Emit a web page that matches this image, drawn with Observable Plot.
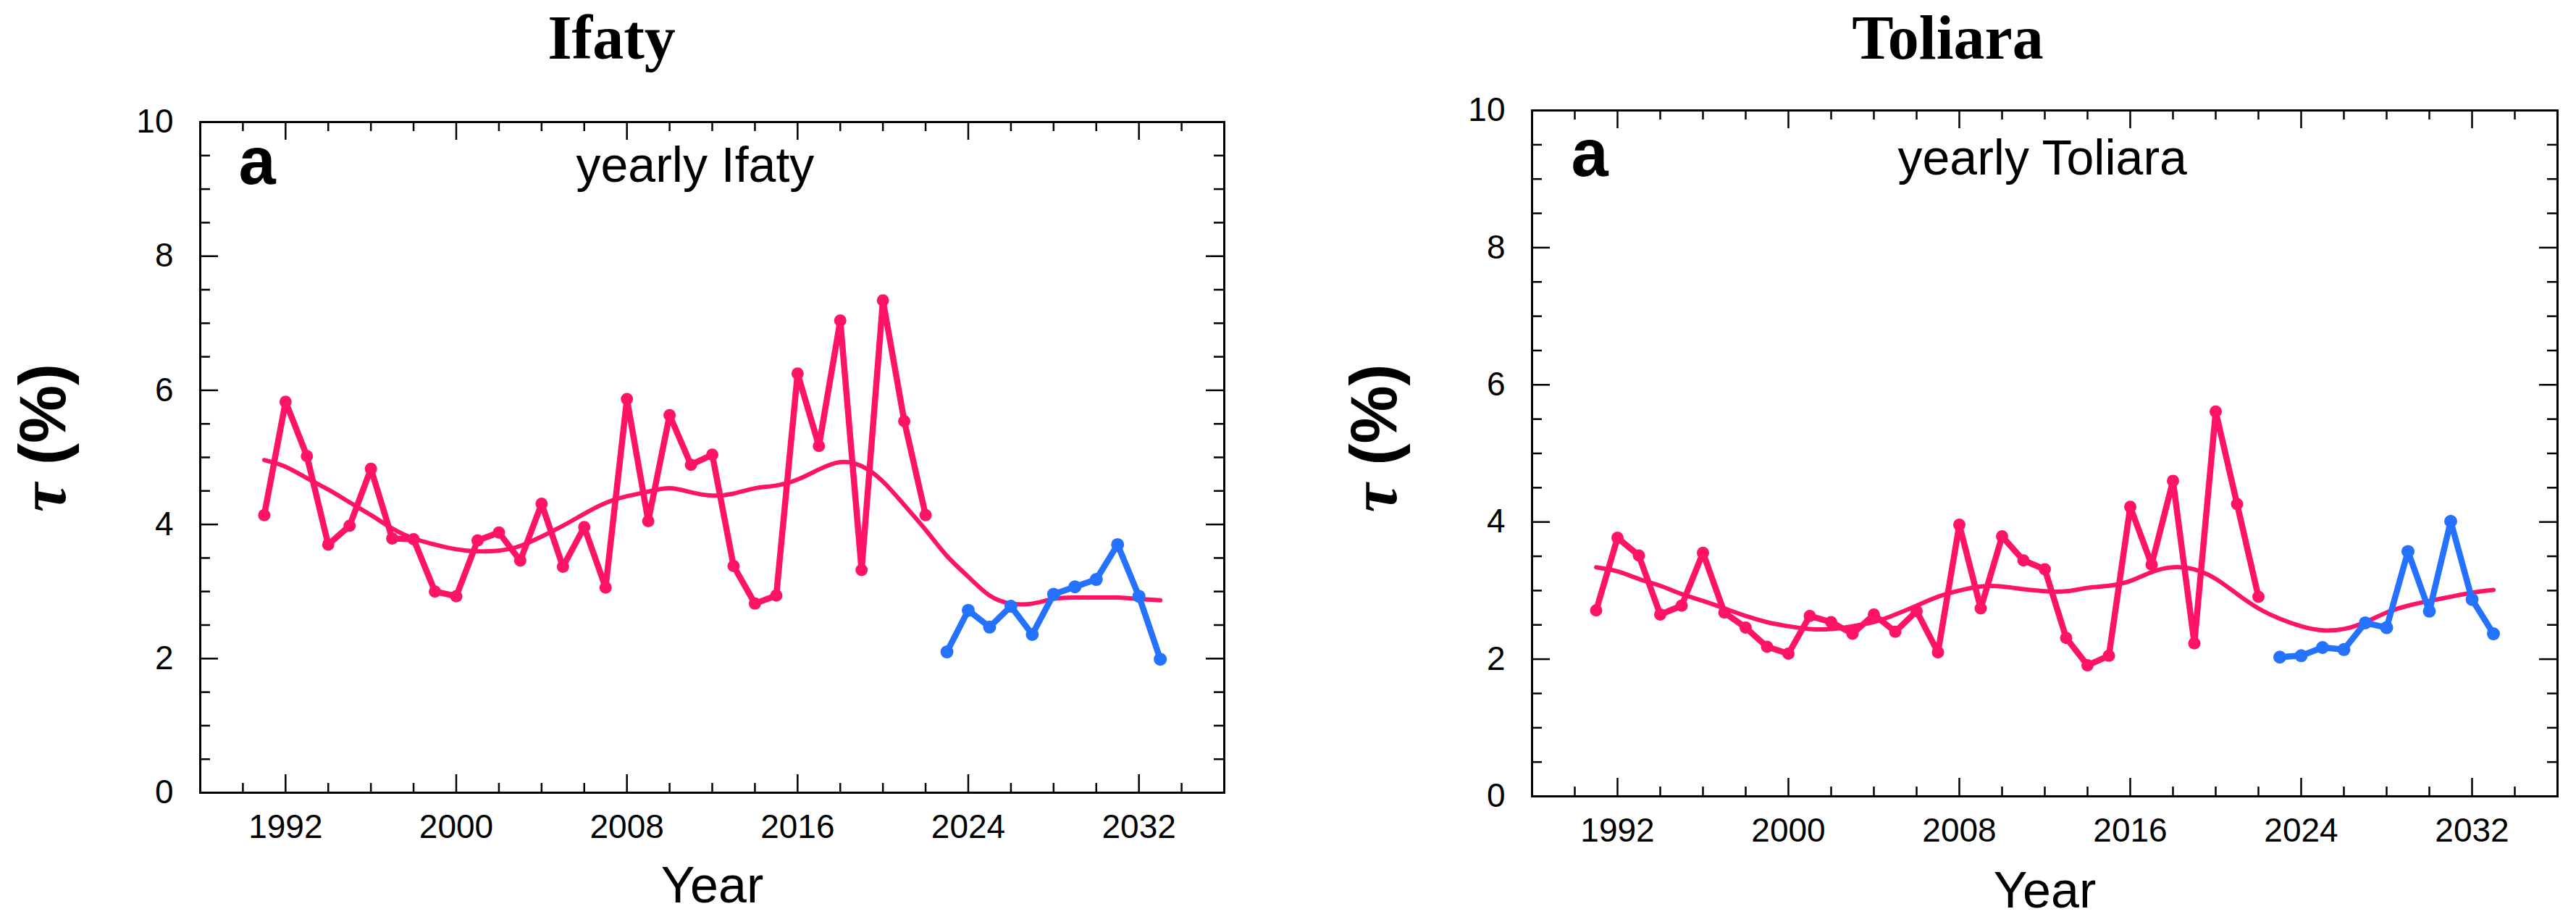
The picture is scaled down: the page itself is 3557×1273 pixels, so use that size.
<!DOCTYPE html>
<html>
<head>
<meta charset="utf-8">
<script src="https://cdn.jsdelivr.net/npm/d3@7"></script>
<script src="https://cdn.jsdelivr.net/npm/@observablehq/plot@0.6"></script>
<style>
  html, body { margin: 0; padding: 0; background: #fff; }
  #wrap { position: relative; width: 3557px; height: 1273px; overflow: hidden; }
  #wrap > svg { position: absolute; top: 0; }
</style>
</head>
<body>
<div id="wrap"></div>
<script>
// ---------- data ----------
const obsYears = [1991,1992,1993,1994,1995,1996,1997,1998,1999,2000,2001,2002,2003,2004,2005,2006,2007,2008,2009,2010,2011,2012,2013,2014,2015,2016,2017,2018,2019,2020,2021,2022];
const forecastYears = [2023,2024,2025,2026,2027,2028,2029,2030,2031,2032,2033];
const smoothYears = [1991,1992,1993,1994,1995,1996,1997,1998,1999,2000,2001,2002,2003,2004,2005,2006,2007,2008,2009,2010,2011,2012,2013,2014,2015,2016,2017,2018,2019,2020,2021,2022,2023,2024,2025,2026,2027,2028,2029,2030,2031,2032,2033];

const ifatyObs = [4.14,5.83,5.02,3.70,3.98,4.83,3.79,3.78,3.00,2.93,3.76,3.88,3.46,4.31,3.37,3.96,3.06,5.87,4.05,5.63,4.89,5.04,3.38,2.82,2.94,6.25,5.17,7.04,3.32,7.34,5.54,4.14];
const ifatyForecast = [2.10,2.72,2.47,2.78,2.36,2.96,3.07,3.18,3.70,2.93,1.99];
const ifatySmooth = [4.96,4.86,4.69,4.52,4.33,4.14,3.94,3.79,3.70,3.63,3.60,3.61,3.68,3.82,3.98,4.16,4.32,4.42,4.49,4.54,4.48,4.43,4.46,4.54,4.58,4.67,4.82,4.93,4.87,4.64,4.29,3.92,3.53,3.22,2.94,2.82,2.82,2.89,2.91,2.91,2.91,2.89,2.87];

const toliaraObs = [2.71,3.77,3.51,2.65,2.78,3.55,2.68,2.46,2.18,2.08,2.63,2.54,2.37,2.65,2.40,2.70,2.10,3.96,2.74,3.79,3.44,3.31,2.31,1.91,2.05,4.22,3.38,4.60,2.23,5.61,4.26,2.91];
const toliaraForecast = [2.03,2.05,2.17,2.14,2.53,2.46,3.57,2.70,4.01,2.87,2.37];
const toliaraSmooth = [3.34,3.28,3.17,3.07,2.95,2.85,2.74,2.63,2.54,2.48,2.44,2.44,2.48,2.54,2.65,2.78,2.91,3.00,3.06,3.06,3.02,2.99,2.99,3.04,3.07,3.14,3.27,3.34,3.31,3.17,2.95,2.74,2.59,2.48,2.42,2.44,2.54,2.68,2.78,2.85,2.91,2.97,3.01];

const xMajorTicks = [1992,2000,2008,2016,2024,2032];
const xMinorTicks = [1990,1994,1996,1998,2002,2004,2006,2010,2012,2014,2018,2020,2022,2026,2028,2030,2034];
const yMajorTicks = [0,2,4,6,8,10];
const yMinorTicks = [0.5,1,1.5,2.5,3,3.5,4.5,5,5.5,6.5,7,7.5,8.5,9,9.5];

const titles = ["Ifaty", "Toliara"];
const panelLetters = ["a", "a"];
const subtitles = ["yearly Ifaty", "yearly Toliara"];
const xLabel = "Year";
const yLabel = "τ (%)";

const PINK = "#FF1367";
const BLUE = "#2472FF";
const SANS = "'Liberation Sans', Arial, Helvetica, sans-serif";
const SERIF = "'Liberation Serif', 'Times New Roman', serif";

function zip(xs, ys) { return xs.map((x, i) => ({year: x, value: ys[i]})); }

function panel(cfg) {
  const fw = cfg.width - cfg.ml - cfg.mr;
  const fh = cfg.height - cfg.mt - cfg.mb;
  const obs = zip(obsYears, cfg.obs);
  const fc = zip(forecastYears, cfg.fc);
  const sm = zip(smoothYears, cfg.sm);
  const tickStyle = {stroke: "black", strokeWidth: 2.5};
  return Plot.plot({
    width: cfg.width,
    height: cfg.height,
    marginLeft: cfg.ml, marginRight: cfg.mr, marginTop: cfg.mt, marginBottom: cfg.mb,
    style: {fontFamily: SANS, background: "white", color: "black", overflow: "visible"},
    x: {domain: [1988, 2036]},
    y: {domain: [0, 10]},
    marks: [
      // ticks (inward) on all four sides
      Plot.ruleX(xMinorTicks, {x: d => d, insetTop: fh - 13, ...tickStyle}),
      Plot.ruleX(xMinorTicks, {x: d => d, insetBottom: fh - 13, ...tickStyle}),
      Plot.ruleX(xMajorTicks, {x: d => d, insetTop: fh - 25, ...tickStyle}),
      Plot.ruleX(xMajorTicks, {x: d => d, insetBottom: fh - 25, ...tickStyle}),
      Plot.ruleY(yMinorTicks, {y: d => d, insetRight: fw - 14, ...tickStyle}),
      Plot.ruleY(yMinorTicks, {y: d => d, insetLeft: fw - 14, ...tickStyle}),
      Plot.ruleY(yMajorTicks, {y: d => d, insetRight: fw - 25, ...tickStyle}),
      Plot.ruleY(yMajorTicks, {y: d => d, insetLeft: fw - 25, ...tickStyle}),
      Plot.axisX({ticks: xMajorTicks, tickSize: 0, tickPadding: 30, fontSize: 46, tickFormat: d => String(d), label: null}),
      Plot.axisY({ticks: yMajorTicks, tickSize: 0, tickPadding: 37, fontSize: 46, tickFormat: d => String(d), label: null}),
      Plot.frame({stroke: "black", strokeWidth: 3}),
      // data
      Plot.line(sm, {x: "year", y: "value", curve: "natural", stroke: PINK, strokeWidth: 6}),
      Plot.line(obs, {x: "year", y: "value", stroke: PINK, strokeWidth: 8.5, strokeLinejoin: "round", strokeLinecap: "round"}),
      Plot.dot(obs, {x: "year", y: "value", r: 8.5, fill: PINK}),
      Plot.line(fc, {x: "year", y: "value", stroke: BLUE, strokeWidth: 8.5, strokeLinejoin: "round", strokeLinecap: "round"}),
      Plot.dot(fc, {x: "year", y: "value", r: 9, fill: BLUE}),
      // texts
      Plot.text([cfg.title], {text: d => d, frameAnchor: "top-left", dx: cfg.titleDx, dy: cfg.titleDy, textAnchor: "middle", lineAnchor: "bottom", fontFamily: SERIF, fontWeight: "bold", fontSize: 86, fill: "black"}),
      Plot.text([cfg.letter], {text: d => d, frameAnchor: "top-left", dx: cfg.letterDx, dy: cfg.letterDy, textAnchor: "start", lineAnchor: "bottom", fontFamily: SANS, fontWeight: "bold", fontSize: 92, fill: "black"}),
      Plot.text([cfg.subtitle], {text: d => d, frameAnchor: "top-left", dx: cfg.subDx, dy: cfg.subDy, textAnchor: "start", lineAnchor: "bottom", fontSize: 68, fill: "black"}),
      Plot.text([xLabel], {text: d => d, frameAnchor: "bottom", dy: cfg.xlabDy, textAnchor: "middle", lineAnchor: "bottom", fontSize: 70, fill: "black"}),
      Plot.text([yLabel], {text: d => d, frameAnchor: "left", dx: cfg.ylabDx, dy: cfg.ylabDy, rotate: -90, textAnchor: "middle", lineAnchor: "middle", fontWeight: "bold", fontSize: 90, fill: "black"})
    ]
  });
}

const wrap = document.getElementById("wrap");

const left = panel({
  width: 1780, height: 1273, ml: 276, mr: 90, mt: 168, mb: 179,
  obs: ifatyObs, fc: ifatyForecast, sm: ifatySmooth,
  title: titles[0], letter: panelLetters[0], subtitle: subtitles[0],
  titleDx: 568, titleDy: -88,
  letterDx: 53, letterDy: 85,
  subDx: 519, subDy: 82,
  xlabDy: 151,
  ylabDx: -215, ylabDy: -27
});
left.style.left = "0px";
wrap.appendChild(left);

const right = panel({
  width: 1777, height: 1273, ml: 335, mr: 26, mt: 152, mb: 174,
  obs: toliaraObs, fc: toliaraForecast, sm: toliaraSmooth,
  title: titles[1], letter: panelLetters[1], subtitle: subtitles[1],
  titleDx: 574, titleDy: -72,
  letterDx: 54, letterDy: 90,
  subDx: 505, subDy: 88,
  xlabDy: 153,
  ylabDx: -216, ylabDy: -21
});
right.style.left = "1780px";
wrap.appendChild(right);

// style the tau glyph in the y labels as an italic serif symbol
d3.selectAll("#wrap svg text").each(function() {
  if (this.textContent === yLabel) {
    const el = d3.select(this);
    el.text(null);
    el.append("tspan").attr("font-family", SERIF).attr("font-style", "italic").attr("font-weight", "bold").text("τ");
    el.append("tspan").text("\u00a0(%)");
  }
});
</script>
</body>
</html>
